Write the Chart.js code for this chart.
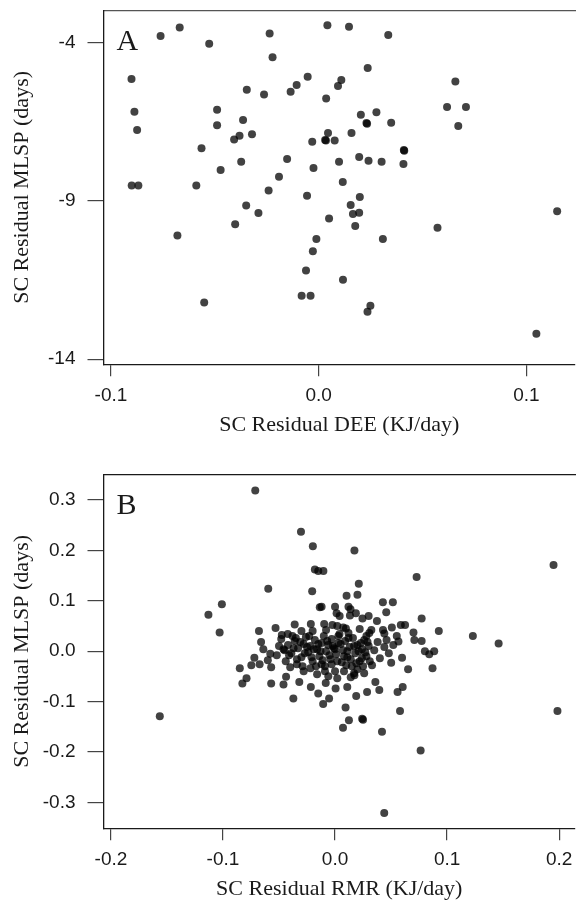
<!DOCTYPE html>
<html>
<head>
<meta charset="utf-8">
<script src="https://cdn.jsdelivr.net/npm/chart.js@4.4.1/dist/chart.umd.min.js"></script>
<style>
  html, body { margin: 0; padding: 0; background: #fff; }
  body { width: 579px; height: 904px; position: relative; overflow: hidden; }
  canvas { position: absolute; left: 0; }
  #chartA { top: 0; }
  #chartB { top: 464px; }
</style>
</head>
<body>
<canvas id="chartA" width="579" height="440"></canvas>
<canvas id="chartB" width="579" height="440"></canvas>
<script>
// panel A: SC residual DEE vs SC residual MLSP
const deeX = [
  -0.0761, -0.0669, -0.0527, -0.0236, -0.0222, -0.0901, -0.0887, -0.0874, -0.0489, -0.0489,
  -0.0346, -0.0263, -0.0135, -0.0106, -0.0364, -0.0407, -0.0381, -0.0321, -0.0564, -0.0373,
  -0.0472, -0.0152, -0.0191, -0.0900, -0.0868, -0.0589, -0.0241, 0.0042, 0.0146, 0.0335,
  0.0236, -0.0053, 0.0109, 0.0093, 0.0036, 0.0658, 0.0618, 0.0709, 0.0672, 0.0203,
  0.0278, 0.0230, 0.0233, 0.0349, 0.0045, 0.0031, 0.0035, 0.0077, -0.0031, 0.0158,
  0.0410, 0.0412, 0.0408, -0.0025, 0.0098, 0.0195, 0.0240, 0.0303, 0.0116, -0.0056,
  0.0198, -0.0680, -0.0551, -0.0402, -0.0349, -0.0290, 0.0154, 0.0165, 0.0195, 0.0050,
  0.0176, 0.0572, 0.1148, -0.0011, 0.0309, -0.0028, -0.0061, 0.0117, -0.0082, -0.0039,
  0.0249, 0.0235, 0.1048
];
const deeY = [
  -3.80, -3.53, -4.05, -3.72, -4.47, -5.16, -6.19, -6.77, -6.13, -6.62,
  -5.50, -5.65, -5.56, -5.35, -6.45, -7.07, -6.95, -6.90, -7.34, -7.77,
  -8.03, -7.68, -8.24, -8.52, -8.52, -8.52, -8.68, -3.46, -3.51, -3.77,
  -4.81, -5.09, -5.19, -5.38, -5.77, -5.24, -6.04, -6.04, -6.64, -6.29,
  -6.21, -6.55, -6.57, -6.54, -6.86, -7.08, -7.10, -7.10, -7.14, -6.86,
  -7.40, -7.42, -7.84, -7.97, -7.77, -7.62, -7.74, -7.77, -8.41, -8.84,
  -8.88, -10.10, -12.21, -9.74, -9.15, -9.39, -9.13, -9.42, -9.38, -9.56,
  -9.80, -9.85, -9.33, -10.21, -10.21, -10.59, -11.20, -11.49, -12.00, -12.00,
  -12.31, -12.50, -13.20
];

// panel B: SC residual RMR vs SC residual MLSP
const rmrX = [
  -0.0712, -0.0304, -0.0198, 0.0173, -0.0180, -0.0150, -0.0104, 0.0728, 0.1950, 0.0212,
  -0.0596, -0.0204, 0.0103, 0.0200, -0.1010, -0.1130, -0.1030, -0.0136, -0.0120, 0.0000,
  0.0120, 0.0138, 0.0427, 0.0516, 0.0457, 0.0014, 0.0041, 0.0186, 0.0133, 0.0245,
  0.0300, 0.0374, 0.0773, -0.0679, -0.0531, -0.0475, -0.0422, -0.0360, -0.0216, -0.0097,
  -0.0024, 0.0073, 0.0097, 0.0324, 0.0306, 0.0428, 0.0440, 0.0507, 0.0587, 0.0625,
  0.0926, 0.1230, 0.1460, 0.0700, 0.0551, 0.0566, 0.0708, 0.0773, 0.0802, 0.0841,
  0.0885, 0.0598, 0.0501, 0.0652, 0.0870, 0.0558, 0.0604, 0.0580, 0.1985, 0.0764,
  0.0439, 0.0419, 0.0242, 0.0250, 0.0124, 0.0071, 0.0094, 0.0286, 0.0395, 0.0189,
  0.0360, -0.0053, -0.0106, -0.0372, -0.0460, -0.0437, -0.0319, -0.0216, -0.0150, 0.0005,
  0.0109, 0.0173, -0.0083, -0.1564, -0.0850, -0.0790, -0.0827, -0.0720, -0.0747, -0.0673,
  -0.0570, -0.0570, -0.0578,
  -0.050, -0.046, -0.042, -0.039, -0.036, -0.033, -0.030, -0.028, -0.026, -0.024,
  -0.022, -0.020, -0.018, -0.016, -0.014, -0.012, -0.010, -0.009, -0.008, -0.006,
  -0.004, -0.003, -0.001, 0.000, 0.001, 0.003, 0.004, 0.006, 0.007, 0.009,
  0.011, 0.013, 0.015, 0.016, 0.018, 0.020, 0.022, 0.024, 0.026, 0.028,
  0.030, 0.033, 0.035, 0.038, 0.040, -0.044, -0.040, -0.034, -0.028, -0.022,
  -0.016, -0.012, -0.006, 0.002, 0.008, 0.014, 0.020, 0.026, -0.052, -0.048,
  -0.038, -0.030, -0.020, -0.008, 0.002, 0.012, 0.022, 0.028, 0.044, 0.048,
  0.046, 0.052, -0.064, -0.060, -0.066,
  -0.045, -0.041, -0.037, -0.034, -0.031, -0.027, -0.025, -0.021, -0.019, -0.017,
  -0.013, -0.011, -0.007, -0.005, -0.002, 0.000, 0.002, 0.005, 0.008, 0.010,
  0.012, 0.014, 0.017, 0.019, 0.021, 0.023, 0.025, 0.027, 0.029, 0.031,
  -0.035, -0.029, -0.023, -0.015, -0.009, -0.003, 0.003, 0.011, 0.017, 0.024
];
const rmrY = [
  0.319, 0.237, 0.208, 0.200, 0.162, 0.159, 0.159, 0.147, 0.171, 0.134,
  0.124, 0.119, 0.110, 0.112, 0.093, 0.072, 0.037, 0.087, 0.088, 0.088,
  0.088, 0.083, 0.097, 0.097, 0.077, 0.075, 0.070, 0.075, 0.071, 0.065,
  0.070, 0.060, 0.065, 0.040, 0.046, 0.032, 0.034, 0.053, 0.054, 0.054,
  0.052, 0.047, 0.045, 0.042, 0.036, 0.042, 0.035, 0.047, 0.052, 0.052,
  0.040, 0.030, 0.015, 0.037, 0.030, 0.019, 0.022, 0.020, 0.000, -0.006,
  0.000, -0.013, -0.023, -0.036, -0.034, -0.081, -0.071, -0.119, -0.119, -0.197,
  -0.321, -0.160, -0.134, -0.136, -0.137, -0.152, -0.112, -0.081, -0.077, -0.089,
  -0.061, -0.094, -0.105, -0.094, -0.066, -0.051, -0.061, -0.071, -0.084, -0.074,
  -0.071, -0.048, -0.063, -0.129, -0.034, -0.054, -0.064, -0.013, -0.028, -0.026,
  -0.064, -0.032, -0.005,
  0.010, 0.004, 0.012, -0.004, 0.020, 0.006, -0.012, 0.014, 0.028, -0.002,
  0.010, -0.020, 0.022, 0.004, -0.010, 0.016, 0.030, -0.030, 0.000, 0.012,
  -0.016, 0.024, 0.006, -0.040, -0.006, 0.016, 0.034, -0.022, 0.002, 0.020,
  -0.012, 0.008, -0.030, 0.026, -0.004, 0.012, -0.020, 0.004, 0.022, -0.010,
  0.010, -0.028, 0.002, 0.018, -0.014, -0.020, -0.032, -0.026, -0.040, -0.034,
  -0.046, -0.026, -0.050, -0.054, -0.040, -0.052, -0.036, -0.044, -0.008, 0.024,
  0.030, 0.040, 0.040, 0.042, 0.050, 0.036, 0.044, 0.030, 0.008, -0.004,
  0.022, 0.012, 0.004, -0.018, 0.018,
  0.002, -0.008, 0.006, -0.016, 0.018, -0.004, 0.008, -0.012, 0.004, -0.030,
  0.000, -0.018, 0.020, -0.008, 0.010, 0.004, -0.020, 0.014, -0.010, -0.028,
  0.026, -0.016, 0.010, -0.024, 0.000, 0.016, -0.030, -0.002, 0.018, -0.020,
  0.026, -0.030, 0.030, 0.014, -0.040, -0.026, 0.030, 0.000, -0.044, -0.014
];

const deeTicks = [-0.1, 0.0, 0.1];
const mlspTicksA = [-14, -9, -4];
const rmrTicks = [-0.2, -0.1, 0.0, 0.1, 0.2];
const mlspTicksB = [-0.3, -0.2, -0.1, 0.0, 0.1, 0.2, 0.3];

const SANS = '"Liberation Sans", Arial, sans-serif';
const SERIF = '"Liberation Serif", "Times New Roman", serif';
const INK = '#1a1a1a';

const panelLetter = {
  id: 'panelLetter',
  afterDraw(chart, args, opts) {
    const { ctx, chartArea } = chart;
    ctx.save();
    ctx.font = '30px ' + SERIF;
    ctx.fillStyle = INK;
    ctx.textBaseline = 'alphabetic';
    ctx.fillText(opts.text, chartArea.left + opts.dx, chartArea.top + opts.dy);
    ctx.restore();
  }
};

function toPoints(xs, ys) {
  return xs.map((x, i) => ({ x, y: ys[i] }));
}

function makePanel(canvas, cfg) {
  return new Chart(canvas, {
    type: 'scatter',
    data: {
      datasets: [{
        data: toPoints(cfg.xs, cfg.ys),
        pointStyle: 'circle',
        pointRadius: 4,
        pointHoverRadius: 4,
        pointBackgroundColor: 'rgba(0,0,0,0.74)',
        pointBorderWidth: 0,
      }],
    },
    options: {
      responsive: false,
      animation: false,
      devicePixelRatio: 1,
      layout: { padding: { top: 10.5, right: 0, left: 0, bottom: 0 } },
      plugins: {
        legend: { display: false },
        tooltip: { enabled: false },
        panelLetter: { text: cfg.letter, dx: 13, dy: 39 },
      },
      scales: {
        x: {
          type: 'linear',
          position: 'bottom',
          min: cfg.xMin,
          max: cfg.xMax,
          afterBuildTicks: s => { s.ticks = cfg.xTicks.map(v => ({ value: v })); },
          afterFit: s => { s.height = 75.7; s.paddingLeft = 0; s.paddingRight = 0; },
          ticks: {
            autoSkip: false, maxRotation: 0, padding: 8,
            color: INK, font: { family: SANS, size: 19 },
            callback: v => v.toFixed(1),
          },
          grid: { drawOnChartArea: false, drawTicks: true, tickLength: 12, tickColor: '#444', lineWidth: 1.2 },
          border: { display: true, color: INK, width: 1.3 },
          title: {
            display: true, text: cfg.xTitle, color: INK,
            font: { family: SERIF, size: 22 }, padding: { top: 0, bottom: 2 },
          },
        },
        xTop: {
          type: 'linear',
          position: 'top',
          min: cfg.xMin,
          max: cfg.xMax,
          afterFit: s => { s.height = 0; s.paddingLeft = 0; s.paddingRight = 0; },
          ticks: { display: false },
          grid: { drawOnChartArea: false, drawTicks: false },
          border: { display: true, color: cfg.topColor, width: 1.3 },
        },
        y: {
          type: 'linear',
          position: 'left',
          min: cfg.yMin,
          max: cfg.yMax,
          afterBuildTicks: s => { s.ticks = cfg.yTicks.map(v => ({ value: v })); },
          afterFit: s => { s.width = 103.5; s.paddingTop = 0; s.paddingBottom = 0; },
          ticks: {
            autoSkip: false, padding: 12,
            color: INK, font: { family: SANS, size: 19 },
            callback: cfg.yFormat,
          },
          grid: { drawOnChartArea: false, drawTicks: true, tickLength: 16, tickColor: '#444', lineWidth: 1.2 },
          border: { display: true, color: INK, width: 1.3 },
          title: {
            display: true, text: 'SC Residual MLSP (days)', color: INK,
            font: { family: SERIF, size: 22 }, padding: { top: 9, bottom: 0 },
          },
        },
      },
    },
    plugins: [panelLetter],
  });
}

makePanel(document.getElementById('chartA'), {
  xs: deeX, ys: deeY, letter: 'A',
  xMin: -0.10358, xMax: 0.12339, yMin: -14.16, yMax: -2.997,
  xTicks: deeTicks, yTicks: mlspTicksA,
  yFormat: v => String(v),
  xTitle: 'SC Residual DEE (KJ/day)',
  topColor: '#555',
});

makePanel(document.getElementById('chartB'), {
  xs: rmrX, ys: rmrY, letter: 'B',
  xMin: -0.20664, xMax: 0.21416, yMin: -0.3516, yMax: 0.3506,
  xTicks: rmrTicks, yTicks: mlspTicksB,
  yFormat: v => v.toFixed(1),
  xTitle: 'SC Residual RMR (KJ/day)',
  topColor: INK,
});
</script>
</body>
</html>
